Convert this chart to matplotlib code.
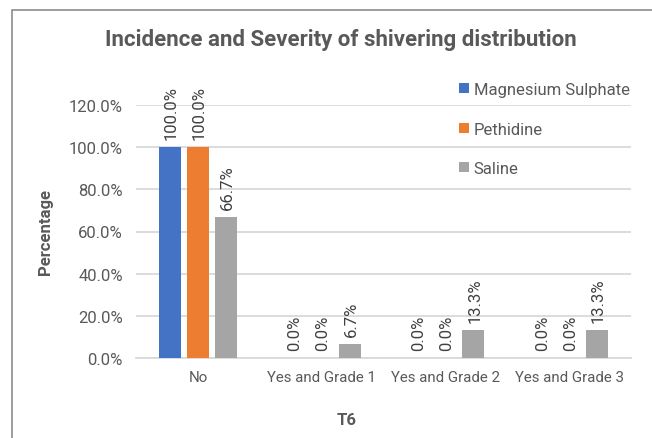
import matplotlib
matplotlib.use("Agg")
import matplotlib.pyplot as plt
import numpy as np
from matplotlib.patches import Rectangle
from matplotlib.ticker import FuncFormatter

plt.rcParams["font.family"] = ["Roboto", "DejaVu Sans"]

categories = ["No", "Yes and Grade 1", "Yes and Grade 2", "Yes and Grade 3"]
series_names = ["Magnesium Sulphate", "Pethidine", "Saline"]
magnesium = [100.0, 0.0, 0.0, 0.0]
pethidine = [100.0, 0.0, 0.0, 0.0]
saline = [66.7, 6.7, 13.3, 13.3]
colors = ["#4472C4", "#ED7D31", "#A5A5A5"]
y_ticks = [0, 20, 40, 60, 80, 100, 120]

fig = plt.figure(figsize=(6.52, 4.39), dpi=100)
ax = fig.add_axes([136 / 652, 1 - 359 / 439, 495 / 652, 253 / 439])

# chart frame, cropped on right and bottom like the source screenshot
fig.patches.append(Rectangle((12 / 652, -0.1), 1.2, 1 - 11 / 439 + 0.1,
                             transform=fig.transFigure, fill=False,
                             edgecolor="#8c8c8c", linewidth=1.2))

x = np.arange(len(categories))
step = 0.226
width = 0.178
for i, (name, vals, col) in enumerate(zip(series_names, [magnesium, pethidine, saline], colors)):
    pos = x + (i - 1) * step
    bars = ax.bar(pos, vals, width, color=col, label=name, zorder=3)
    for b, v in zip(bars, vals):
        ax.annotate(f"{v:.1f}%", (b.get_x() + b.get_width() / 2, v),
                    xytext=(1, 6), textcoords="offset points",
                    rotation=90, ha="center", va="bottom",
                    fontsize=12, color="#404040", annotation_clip=False)

ax.set_xlim(-0.5, len(categories) - 0.5)
ax.set_ylim(0, 120)
ax.set_yticks(y_ticks)
ax.yaxis.set_major_formatter(FuncFormatter(lambda v, _: f"{v:.1f}%"))
ax.set_xticks(x)
ax.set_xticklabels(categories)
ax.grid(axis="y", color="#d9d9d9", linewidth=1.3, zorder=0)
ax.tick_params(length=0, labelsize=12, colors="#595959")
ax.tick_params(axis="y", pad=9.5)
ax.tick_params(axis="x", pad=8.5, labelsize=10.8)
for s in ["top", "right", "left"]:
    ax.spines[s].set_visible(False)
ax.spines["bottom"].set_color("#d9d9d9")
ax.spines["bottom"].set_linewidth(1.3)

fig.text(45 / 652, 1 - 232 / 439, "Percentage", rotation=90, ha="center", va="center",
         fontsize=12, fontweight="bold", color="#595959")
fig.text(347 / 652, 1 - 421 / 439, "T6", ha="center", va="center",
         fontsize=12, fontweight="bold", color="#595959")
fig.text(340.5 / 652, 1 - 40 / 439, "Incidence and Severity of shivering distribution",
         ha="center", va="center", fontsize=16, fontweight="bold", color="#595959")

leg = ax.legend(loc="upper left", bbox_to_anchor=(451 / 652, 1 - 75 / 439),
                bbox_transform=fig.transFigure, frameon=False, fontsize=12,
                handlelength=0.55, handleheight=0.55, handletextpad=0.3,
                labelspacing=1.46, borderpad=0)
for t in leg.get_texts():
    t.set_color("#595959")

fig.savefig("out.png", dpi=100)
